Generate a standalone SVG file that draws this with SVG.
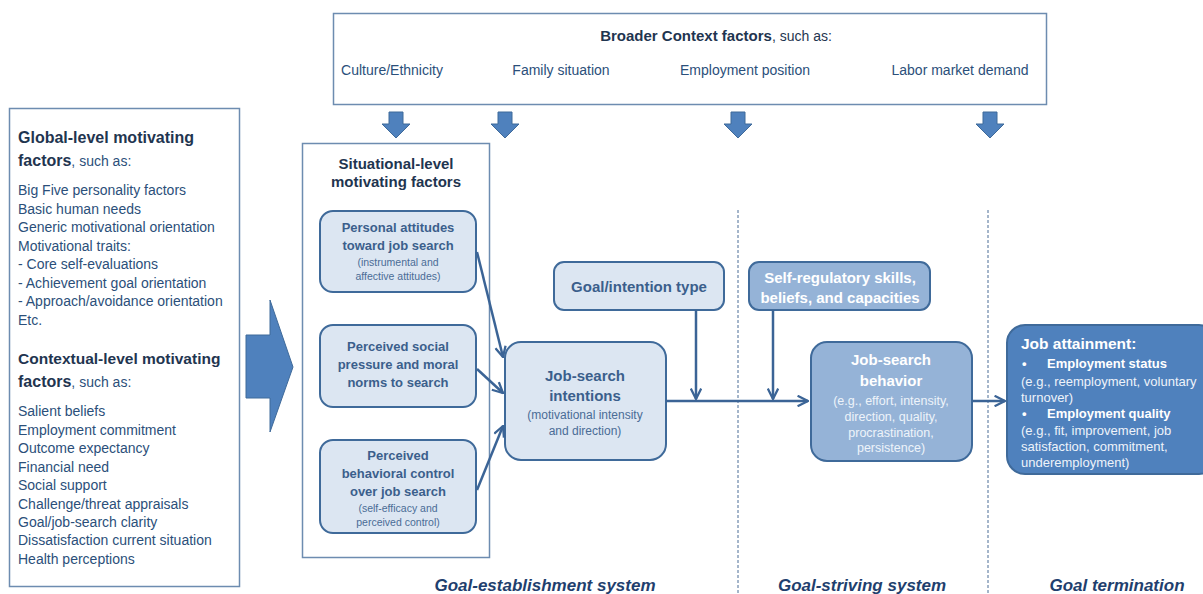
<svg xmlns="http://www.w3.org/2000/svg" width="1203" height="594" viewBox="0 0 1203 594">
<defs>
<style>
text{font-family:"Liberation Sans","Open Sans",sans-serif;}
.frame{fill:#fff;stroke:#6d8cb0;stroke-width:1.5;}
.lt{fill:#dce6f2;stroke:#3f6a9a;stroke-width:2;}
.md{fill:#95b3d7;stroke:#3f6a9a;stroke-width:2;}
.dk{fill:#4f81bd;stroke:#3f6a9a;stroke-width:2;}
.blk{fill:#4f81bd;stroke:#3f6a9a;stroke-width:1;}
.h{font-size:16px;font-weight:bold;fill:#1f3550;}
.hs{font-size:14px;font-weight:normal;fill:#2b4f7a;}
.li{font-size:14px;fill:#2b4f7a;}
.ctx{font-size:14px;fill:#2b4f7a;text-anchor:middle;}
.b13{font-size:13px;font-weight:bold;fill:#3b5f8c;text-anchor:middle;}
.s9{font-size:10.5px;fill:#4a6c96;text-anchor:middle;}
.b15{font-size:15px;font-weight:bold;fill:#3b5f8c;text-anchor:middle;}
.s12{font-size:12px;fill:#4a6c96;text-anchor:middle;}
.w15{font-size:15px;font-weight:bold;fill:#fff;text-anchor:middle;}
.w11{font-size:12.5px;fill:#eef3fa;text-anchor:middle;}
.wa{font-size:13px;fill:#eef3fa;}
.wb{font-size:13px;font-weight:bold;fill:#fff;}
.sys{font-size:17px;font-weight:bold;font-style:italic;fill:#1f3f6e;text-anchor:middle;}
.con{stroke:#3b6496;stroke-width:2.5;fill:none;}
.dash{stroke:#4a6c96;stroke-width:1;stroke-dasharray:3,2;fill:none;}
</style>
<marker id="ah" viewBox="0 0 12 12" refX="11" refY="6" markerWidth="5" markerHeight="5" orient="auto" markerUnits="strokeWidth">
<path d="M1,1 L11,6 L1,11" fill="none" stroke="#3b6496" stroke-width="2.2"/>
</marker>
</defs>
<rect width="1203" height="594" fill="#fff"/>

<g id="dividers">
<line class="dash" x1="738" y1="210" x2="738" y2="594"/>
<line class="dash" x1="988" y1="210" x2="988" y2="594"/>
</g>

<g id="global-contextual">
<rect class="frame" x="9.5" y="108.5" width="230" height="478"/>
<text x="18" y="143" class="h">Global-level motivating</text>
<text x="18" y="166" class="h">factors<tspan class="hs">, such as:</tspan></text>
<text class="li" x="18" y="195">Big Five personality factors</text>
<text class="li" x="18" y="214">Basic human needs</text>
<text class="li" x="18" y="232">Generic motivational orientation</text>
<text class="li" x="18" y="251">Motivational traits:</text>
<text class="li" x="18" y="269">- Core self-evaluations</text>
<text class="li" x="18" y="288">- Achievement goal orientation</text>
<text class="li" x="18" y="306">- Approach/avoidance orientation</text>
<text class="li" x="18" y="325">Etc.</text>
<text x="18" y="364" class="h" style="font-size:15.5px">Contextual-level motivating</text>
<text x="18" y="387" class="h">factors<tspan class="hs">, such as:</tspan></text>
<text class="li" x="18" y="416">Salient beliefs</text>
<text class="li" x="18" y="435">Employment commitment</text>
<text class="li" x="18" y="453">Outcome expectancy</text>
<text class="li" x="18" y="472">Financial need</text>
<text class="li" x="18" y="490">Social support</text>
<text class="li" x="18" y="509">Challenge/threat appraisals</text>
<text class="li" x="18" y="527">Goal/job-search clarity</text>
<text class="li" x="18" y="545">Dissatisfaction current situation</text>
<text class="li" x="18" y="564">Health perceptions</text>
</g>

<g id="big-arrow">
<path class="blk" d="M246,335 L270,335 L270,300 L293,367 L270,432 L270,398 L246,398 Z"/>
</g>

<g id="broader-context">
<rect class="frame" x="333.5" y="13.5" width="713" height="91"/>
<text x="716" y="41" text-anchor="middle" style="font-size:15px;font-weight:bold;fill:#1f3550">Broader Context factors<tspan style="font-weight:normal;font-size:14px">, such as:</tspan></text>
<text class="ctx" x="392" y="75">Culture/Ethnicity</text>
<text class="ctx" x="561" y="75">Family situation</text>
<text class="ctx" x="745" y="75">Employment position</text>
<text class="ctx" x="960" y="75">Labor market demand</text>
</g>

<g id="context-arrows">
<path class="blk" d="M389,112 L403,112 L403,124 L410,124 L396,138 L382,124 L389,124 Z"/>
<path class="blk" d="M498,112 L512,112 L512,124 L519,124 L505,138 L491,124 L498,124 Z"/>
<path class="blk" d="M731,112 L745,112 L745,124 L752,124 L738,138 L724,124 L731,124 Z"/>
<path class="blk" d="M983,112 L997,112 L997,124 L1004,124 L990,138 L976,124 L983,124 Z"/>
</g>

<g id="situational">
<rect class="frame" x="302.5" y="143.5" width="187" height="414"/>
<text class="h" x="396" y="169" text-anchor="middle" style="font-size:15px">Situational-level</text>
<text class="h" x="396" y="187" text-anchor="middle" style="font-size:15px">motivating factors</text>
</g>

<g id="attitudes">
<rect class="lt" x="320" y="211" width="156" height="81" rx="13"/>
<text class="b13" x="398" y="232">Personal attitudes</text>
<text class="b13" x="398" y="250">toward job search</text>
<text class="s9" x="398" y="266">(instrumental  and</text>
<text class="s9" x="398" y="280">affective attitudes)</text>
</g>

<g id="social-pressure">
<rect class="lt" x="320" y="325" width="156" height="82" rx="13"/>
<text class="b13" x="398" y="351">Perceived social</text>
<text class="b13" x="398" y="369">pressure and moral</text>
<text class="b13" x="398" y="387">norms to search</text>
</g>

<g id="behavioral-control">
<rect class="lt" x="320" y="440" width="156" height="93" rx="13"/>
<text class="b13" x="398" y="460">Perceived</text>
<text class="b13" x="398" y="478">behavioral control</text>
<text class="b13" x="398" y="496">over job search</text>
<text class="s9" x="398" y="512">(self-efficacy and</text>
<text class="s9" x="398" y="526">perceived control)</text>
</g>

<g id="intentions">
<rect class="lt" x="505" y="342" width="161" height="118" rx="16"/>
<text class="b15" x="585" y="381">Job-search</text>
<text class="b15" x="585" y="401">intentions</text>
<text class="s12" x="585" y="419">(motivational intensity</text>
<text class="s12" x="585" y="435">and direction)</text>
</g>

<g id="goal-type">
<rect class="lt" x="554" y="262" width="170" height="48" rx="10"/>
<text class="b15" x="639" y="292">Goal/intention type</text>
</g>

<g id="self-regulatory">
<rect class="md" x="749" y="262" width="181" height="48" rx="10"/>
<text class="w15" x="840" y="283">Self-regulatory skills,</text>
<text class="w15" x="840" y="303">beliefs, and capacities</text>
</g>

<g id="behavior">
<rect class="md" x="811" y="342" width="161" height="119" rx="16"/>
<text class="w15" x="891" y="365">Job-search</text>
<text class="w15" x="891" y="386">behavior</text>
<text class="w11" x="891" y="405">(e.g., effort, intensity,</text>
<text class="w11" x="891" y="421">direction, quality,</text>
<text class="w11" x="891" y="437">procrastination,</text>
<text class="w11" x="891" y="452">persistence)</text>
</g>

<g id="attainment">
<rect class="dk" x="1007" y="325" width="210" height="149" rx="18"/>
<text x="1021" y="349" style="font-size:15.5px;font-weight:bold;fill:#fff">Job attainment:</text>
<text class="wb" x="1022" y="368">•</text>
<text class="wb" x="1047" y="368">Employment status</text>
<text class="wa" x="1021" y="386">(e.g., reemployment, voluntary</text>
<text class="wa" x="1021" y="402">turnover)</text>
<text class="wb" x="1022" y="418">•</text>
<text class="wb" x="1047" y="418">Employment quality</text>
<text class="wa" x="1021" y="435">(e.g., fit, improvement, job</text>
<text class="wa" x="1021" y="451">satisfaction, commitment,</text>
<text class="wa" x="1021" y="467">underemployment)</text>
</g>

<g id="connectors">
<line class="con" x1="477" y1="252" x2="503" y2="357" marker-end="url(#ah)"/>
<line class="con" x1="477" y1="369" x2="503" y2="393" marker-end="url(#ah)"/>
<line class="con" x1="477" y1="490" x2="503" y2="426" marker-end="url(#ah)"/>
<line class="con" x1="666" y1="401" x2="808" y2="401" marker-end="url(#ah)"/>
<line class="con" x1="696" y1="310" x2="696" y2="399" marker-end="url(#ah)"/>
<line class="con" x1="773" y1="310" x2="773" y2="399" marker-end="url(#ah)"/>
<line class="con" x1="972" y1="401" x2="1005" y2="401" marker-end="url(#ah)"/>
</g>

<g id="system-labels">
<text class="sys" x="545" y="591">Goal-establishment system</text>
<text class="sys" x="862" y="591">Goal-striving system</text>
<text class="sys" x="1117" y="591">Goal termination</text>
</g>
</svg>
